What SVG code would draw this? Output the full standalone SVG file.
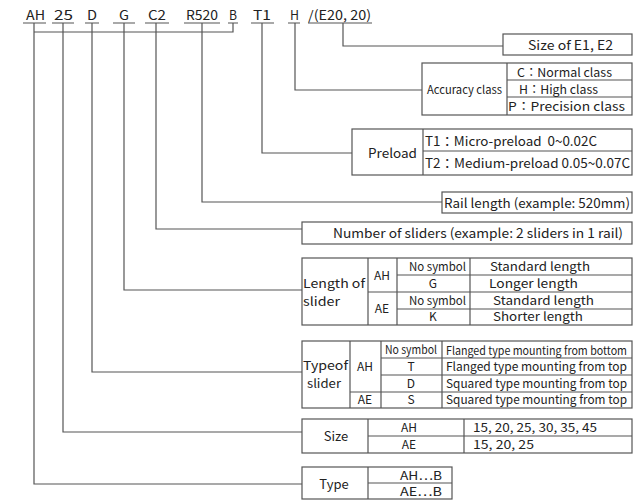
<svg xmlns="http://www.w3.org/2000/svg" width="634" height="500" viewBox="0 0 634 500">
<style>
.t{font-family:"Noto Sans CJK JP","Noto Sans",sans-serif;font-size:13px;fill:#222}
.s{font-size:11.5px}
.r{font-size:12px}
.q{font-size:12px}
.m{text-anchor:middle}
.b{fill:#fff;stroke:#555;stroke-width:1.2}
.l{stroke:#555;stroke-width:1.2;fill:none}
</style>
<rect width="634" height="500" fill="#fff"/>
<g id="code">
<text class="t" x="26" y="20" textLength="19" lengthAdjust="spacingAndGlyphs">AH</text>
<text class="t" x="54" y="20" textLength="19" lengthAdjust="spacingAndGlyphs">25</text>
<text class="t" x="87" y="20" textLength="10" lengthAdjust="spacingAndGlyphs">D</text>
<text class="t" x="119" y="20" textLength="10" lengthAdjust="spacingAndGlyphs">G</text>
<text class="t" x="148" y="20" textLength="18" lengthAdjust="spacingAndGlyphs">C2</text>
<text class="t" x="186" y="20" textLength="32" lengthAdjust="spacingAndGlyphs">R520</text>
<text class="t" x="229" y="20" textLength="8" lengthAdjust="spacingAndGlyphs">B</text>
<text class="t" x="253" y="20" textLength="18" lengthAdjust="spacingAndGlyphs">T1</text>
<text class="t" x="290" y="20" textLength="9" lengthAdjust="spacingAndGlyphs">H</text>
<text class="t" x="308" y="20" textLength="63" lengthAdjust="spacingAndGlyphs">/(E20, 20)</text>
<path class="l" d="M23,23H46M52,23H74M85,23H99M113,23H135M145,23H169M184,23H220M228,23H238M251,23H274M288,23H300M308,23H372"/>
</g>
<g id="connectors">
<path class="l" d="M34,32H233V23"/>
<path class="l" d="M34,23V484H302"/>
<path class="l" d="M63,23V432H302"/>
<path class="l" d="M92,23V372H302"/>
<path class="l" d="M124,23V290H302"/>
<path class="l" d="M156,23V229H302"/>
<path class="l" d="M202,23V202H442"/>
<path class="l" d="M262,23V153H352"/>
<path class="l" d="M295,23V90H422"/>
<path class="l" d="M343,23V46H503"/>
</g>
<g id="size-e">
<rect class="b" x="503" y="34" width="129" height="21"/>
<text class="t" x="528" y="50" textLength="85" lengthAdjust="spacingAndGlyphs">Size of E1, E2</text>
</g>
<g id="accuracy">
<rect class="b" x="422" y="63" width="210" height="52"/>
<path class="l" d="M507,63V115M507,80H632M507,97H632"/>
<text class="t s" x="427" y="94" textLength="75" lengthAdjust="spacingAndGlyphs">Accuracy class</text>
<text class="t q" x="517" y="77" textLength="95" lengthAdjust="spacingAndGlyphs">C：Normal class</text>
<text class="t q" x="519" y="94" textLength="79" lengthAdjust="spacingAndGlyphs">H：High class</text>
<text class="t q" x="508" y="111" textLength="117" lengthAdjust="spacingAndGlyphs">P：Precision class</text>
</g>
<g id="preload">
<rect class="b" x="352" y="129" width="280" height="46"/>
<path class="l" d="M423,129V175M423,151H632"/>
<text class="t" x="368" y="158" textLength="49" lengthAdjust="spacingAndGlyphs">Preload</text>
<text class="t" x="425" y="146" textLength="172" lengthAdjust="spacingAndGlyphs">T1：Micro-preload&#160; 0~0.02C</text>
<text class="t" x="425" y="168" textLength="205" lengthAdjust="spacingAndGlyphs">T2：Medium-preload 0.05~0.07C</text>
</g>
<g id="rail">
<rect class="b" x="442" y="192" width="190" height="21"/>
<text class="t" x="444" y="208" textLength="186" lengthAdjust="spacingAndGlyphs">Rail length (example: 520mm)</text>
</g>
<g id="sliders">
<rect class="b" x="302" y="222" width="330" height="22"/>
<text class="t" x="333" y="238" textLength="290" lengthAdjust="spacingAndGlyphs">Number of sliders (example: 2 sliders in 1 rail)</text>
</g>
<g id="length">
<rect class="b" x="302" y="258" width="330" height="67"/>
<path class="l" d="M368,258V325M397,258V325M470,258V325M397,275H632M368,292H632M397,309H632"/>
<text class="t q" x="303" y="288" textLength="62" lengthAdjust="spacingAndGlyphs">Length of</text>
<text class="t q" x="303" y="306" textLength="37" lengthAdjust="spacingAndGlyphs">slider</text>
<text class="t r m" x="382" y="280">AH</text>
<text class="t r m" x="382" y="313">AE</text>
<text class="t s" x="409" y="271" textLength="57" lengthAdjust="spacingAndGlyphs">No symbol</text>
<text class="t r m" x="433" y="288">G</text>
<text class="t s" x="409" y="305" textLength="57" lengthAdjust="spacingAndGlyphs">No symbol</text>
<text class="t r m" x="433" y="321">K</text>
<text class="t r" x="490" y="271" textLength="100" lengthAdjust="spacingAndGlyphs">Standard length</text>
<text class="t r" x="489" y="288" textLength="89" lengthAdjust="spacingAndGlyphs">Longer length</text>
<text class="t r" x="493" y="305" textLength="101" lengthAdjust="spacingAndGlyphs">Standard length</text>
<text class="t r" x="493" y="321" textLength="90" lengthAdjust="spacingAndGlyphs">Shorter length</text>
</g>
<g id="type-of-slider">
<rect class="b" x="302" y="341" width="330" height="67"/>
<path class="l" d="M350,341V408M381,341V408M442,341V408M381,358H632M381,375H632M350,392H632"/>
<text class="t q" x="303" y="370" textLength="45" lengthAdjust="spacingAndGlyphs">Typeof</text>
<text class="t q" x="307" y="388" textLength="34" lengthAdjust="spacingAndGlyphs">slider</text>
<text class="t r m" x="365" y="371">AH</text>
<text class="t r m" x="365" y="404">AE</text>
<text class="t s" x="385" y="354" textLength="52" lengthAdjust="spacingAndGlyphs">No symbol</text>
<text class="t r m" x="411" y="371">T</text>
<text class="t r m" x="411" y="388">D</text>
<text class="t r m" x="411" y="404">S</text>
<text class="t s" x="446" y="355" textLength="181" lengthAdjust="spacingAndGlyphs">Flanged type mounting from bottom</text>
<text class="t r" x="446" y="371" textLength="181" lengthAdjust="spacingAndGlyphs">Flanged type mounting from top</text>
<text class="t r" x="446" y="388" textLength="181" lengthAdjust="spacingAndGlyphs">Squared type mounting from top</text>
<text class="t r" x="446" y="404" textLength="181" lengthAdjust="spacingAndGlyphs">Squared type mounting from top</text>
</g>
<g id="size">
<rect class="b" x="302" y="419" width="330" height="34"/>
<path class="l" d="M368,419V453M464,419V453M368,436H632"/>
<text class="t m" x="336" y="441">Size</text>
<text class="t r m" x="409" y="432">AH</text>
<text class="t r m" x="409" y="449">AE</text>
<text class="t r" x="473" y="432" textLength="124" lengthAdjust="spacingAndGlyphs">15, 20, 25, 30, 35, 45</text>
<text class="t r" x="473" y="449" textLength="61" lengthAdjust="spacingAndGlyphs">15, 20, 25</text>
</g>
<g id="type">
<rect class="b" x="302" y="467" width="150" height="32"/>
<path class="l" d="M368,467V499M368,483H452"/>
<text class="t m" x="334" y="489">Type</text>
<text class="t r" x="400" y="480" textLength="42" lengthAdjust="spacingAndGlyphs">AH…B</text>
<text class="t r" x="400" y="496" textLength="42" lengthAdjust="spacingAndGlyphs">AE…B</text>
</g>
</svg>
